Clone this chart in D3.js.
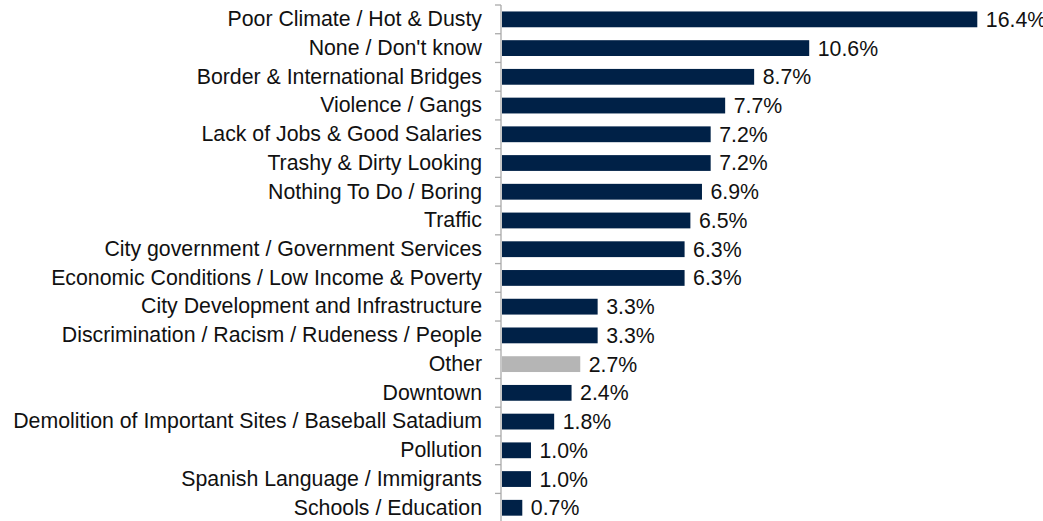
<!DOCTYPE html>
<html>
<head>
<meta charset="utf-8">
<script src="https://cdn.jsdelivr.net/npm/d3@7"></script>
<style>
  html, body { margin: 0; padding: 0; background: #fff; }
  svg { display: block; font-family: "Liberation Sans", Arial, sans-serif; }
</style>
</head>
<body>
<svg id="chart" width="1043" height="521"></svg>
<script>
// Categories, top to bottom
const categories = [
  "Poor Climate / Hot & Dusty",
  "None / Don't know",
  "Border & International Bridges",
  "Violence / Gangs",
  "Lack of Jobs & Good Salaries",
  "Trashy & Dirty Looking",
  "Nothing To Do / Boring",
  "Traffic",
  "City government / Government Services",
  "Economic Conditions / Low Income & Poverty",
  "City Development and Infrastructure",
  "Discrimination / Racism / Rudeness / People",
  "Other",
  "Downtown",
  "Demolition of Important Sites / Baseball Satadium",
  "Pollution",
  "Spanish Language / Immigrants",
  "Schools / Education"
];
// Share of responses, in percent
const values = [16.4, 10.6, 8.7, 7.7, 7.2, 7.2, 6.9, 6.5, 6.3, 6.3, 3.3, 3.3, 2.7, 2.4, 1.8, 1.0, 1.0, 0.7];
const highlight = ["Other"];

const fontSize = 21.3;
const svg = d3.select("#chart");
const axisX = 501;
const plotTop = 5, step = 28.73;

const y = d3.scaleBand()
  .domain(categories)
  .range([plotTop, plotTop + step * categories.length])
  .paddingInner(0.45)
  .paddingOuter(0.225);

const x = d3.scaleLinear().domain([0, 16.4]).range([axisX + 1, 977.3]);

// Bars
svg.append("g").selectAll("rect")
  .data(categories)
  .join("rect")
  .attr("x", x(0))
  .attr("y", d => y(d))
  .attr("width", (d, i) => x(values[i]) - x(0))
  .attr("height", y.bandwidth())
  .attr("fill", d => highlight.includes(d) ? "#b5b5b5" : "#002147");

// Category axis with ticks between bands
const axis = d3.axisLeft(y).tickSize(0).tickPadding(19);
const gAxis = svg.append("g")
  .attr("transform", `translate(${axisX},0)`)
  .call(axis);
gAxis.select(".domain").remove();
gAxis.selectAll("text")
  .attr("font-size", fontSize)
  .attr("fill", "#111")
  .style("font-family", "'Liberation Sans', Arial, sans-serif");

svg.append("line")
  .attr("x1", axisX).attr("x2", axisX)
  .attr("y1", plotTop).attr("y2", 521)
  .attr("stroke", "#aaa").attr("stroke-width", 1.3);

svg.append("g").selectAll("line")
  .data(d3.range(categories.length + 1))
  .join("line")
  .attr("x1", axisX - 6).attr("x2", axisX)
  .attr("y1", i => plotTop + i * step).attr("y2", i => plotTop + i * step)
  .attr("stroke", "#aaa").attr("stroke-width", 1.3);

// Value labels
svg.append("g").selectAll("text")
  .data(categories)
  .join("text")
  .attr("x", (d, i) => x(values[i]) + 8.5)
  .attr("y", d => y(d) + y.bandwidth() / 2)
  .attr("dy", "0.35em")
  .attr("font-size", fontSize)
  .attr("fill", "#111")
  .text((d, i) => values[i].toFixed(1) + "%");
</script>
</body>
</html>
